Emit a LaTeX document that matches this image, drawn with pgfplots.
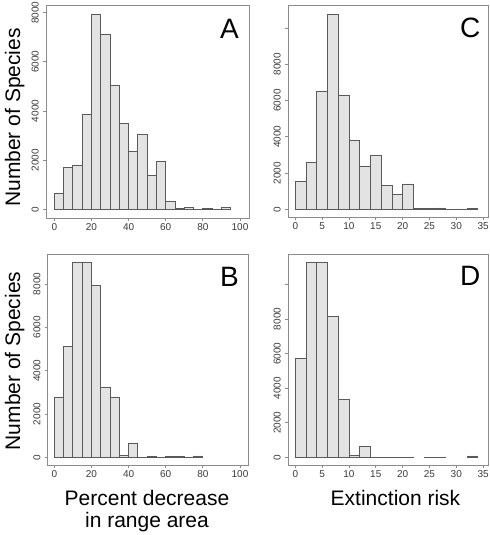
\documentclass[border=0pt]{standalone}
\usepackage{fontspec}
\setmainfont{Liberation Sans}
\usepackage{pgfplots}
\pgfplotsset{compat=1.18}
\definecolor{barfill}{HTML}{E3E3E3}
\definecolor{baredge}{HTML}{5A5A5A}
\definecolor{framegray}{HTML}{8C8C8C}
\definecolor{ticktext}{HTML}{3A3A3A}
\pgfplotsset{
  hist/.style={
    scale only axis,
    anchor=south west,
    enlargelimits=false,
    axis line style={draw=framegray, line width=0.9bp},
    tick style={draw=framegray, line width=0.8bp},
    major tick length=3bp,
    tick align=outside,
    tick pos=left,
    scaled ticks=false,
    /pgf/number format/assume math mode=true,
    /pgf/number format/1000 sep={},
    tick label style={font=\fontsize{10bp}{12bp}\selectfont, text=ticktext},
    xticklabel style={anchor=north, inner sep=2bp},
    yticklabel style={rotate=90, anchor=south, inner sep=4bp},
  },
  bars/.style={ybar, bar shift=0pt, bar width=#1, fill=barfill, draw=baredge, line width=0.8bp},
}
\newcommand{\bigtxt}{\fontsize{21bp}{25bp}\selectfont}
\newcommand{\lettertxt}{\fontsize{28bp}{32bp}\selectfont}
\begin{document}
\begin{tikzpicture}
\useasboundingbox (0,0) rectangle (490bp,535bp);
% Panel A
\begin{axis}[hist, at={(46bp,317bp)}, width=203bp, height=213bp,
  xmin=-4.47, xmax=104.85, ymin=-354, ymax=8313,
  xtick={0,20,40,60,80,100}, ytick={0,2000,4000,6000,8000}]
\addplot[bars=5] coordinates {(2.5,650) (7.5,1695) (12.5,1800) (17.5,3865) (22.5,7932) (27.5,7119) (32.5,5031) (37.5,3498) (42.5,2359) (47.5,3037) (52.5,1383) (57.5,1953) (62.5,325) (67.5,40) (72.5,80) (77.5,10) (82.5,40) (87.5,10) (92.5,80)};
\end{axis}
% Panel C
\begin{axis}[hist, at={(288bp,318bp)}, width=200.5bp, height=212bp,
  xmin=-1.36, xmax=36.0, ymin=-425, ymax=11270,
  xtick={0,5,10,15,20,25,30,35}, ytick={0,2000,4000,6000,8000,10000},
  yticklabels={0,2000,4000,6000,8000,{}}]
\addplot[bars=2] coordinates {(1,1545) (3,2593) (5,6510) (7,10759) (9,6308) (11,3807) (13,2391) (15,2979) (17,1324) (19,828) (21,1398) (23,37) (25,37) (27,74) (29,10) (31,18) (33,37)};
\end{axis}
% Panel B
\begin{axis}[hist, at={(47.7bp,70bp)}, width=200.3bp, height=211bp,
  xmin=-3.55, xmax=104.3, ymin=-355, ymax=9382,
  xtick={0,20,40,60,80,100}, ytick={0,2000,4000,6000,8000}]
\addplot[bars=5] coordinates {(2.5,2785) (7.5,5123) (12.5,9010) (17.5,9000) (22.5,7923) (27.5,3231) (32.5,2754) (37.5,108) (42.5,662) (47.5,10) (52.5,31) (57.5,10) (62.5,31) (67.5,31) (72.5,10) (77.5,62)};
\end{axis}
% Panel D
\begin{axis}[hist, at={(288bp,70bp)}, width=200.5bp, height=211bp,
  xmin=-1.36, xmax=36.0, ymin=-445, ymax=11758,
  xtick={0,5,10,15,20,25,30,35}, ytick={0,2000,4000,6000,8000,10000},
  yticklabels={0,2000,4000,6000,8000,{}}]
\addplot[bars=2] coordinates {(1,5723) (3,11253) (5,11272) (7,8152) (9,3354) (11,116) (13,636) (15,10) (17,10) (19,10) (21,10) (25,10) (27,10) (33,77)};
\end{axis}
% panel letters
\node[anchor=base east, inner sep=0pt] at (239bp,496.5bp) {\lettertxt A};
\node[anchor=base east, inner sep=0pt] at (480.5bp,497bp) {\lettertxt C};
\node[anchor=base east, inner sep=0pt] at (239bp,248.5bp) {\lettertxt B};
\node[anchor=base east, inner sep=0pt] at (480.5bp,249bp) {\lettertxt D};
% axis labels
\node[rotate=90, anchor=base, inner sep=0pt] at (20bp,417.5bp) {\bigtxt Number of Species};
\node[rotate=90, anchor=base, inner sep=0pt] at (20bp,174bp) {\bigtxt Number of Species};
\node[anchor=base, inner sep=0pt] at (147bp,29.3bp) {\bigtxt Percent decrease};
\node[anchor=base, inner sep=0pt] at (147bp,7.7bp) {\bigtxt in range area};
\node[anchor=base, inner sep=0pt] at (395.5bp,29.3bp) {\bigtxt Extinction risk};
\end{tikzpicture}
\end{document}
